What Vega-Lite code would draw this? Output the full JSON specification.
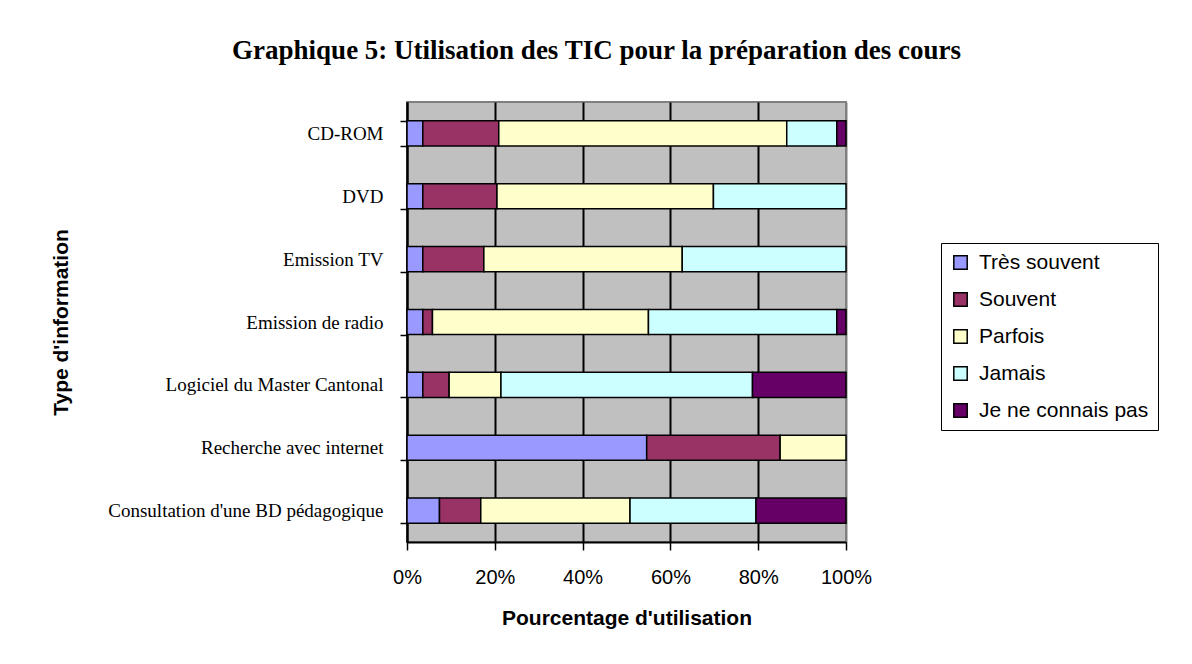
{
  "$schema": "https://vega.github.io/schema/vega-lite/v6.json",
  "autosize": "none",
  "padding": {"left": 407, "top": 102, "right": 346, "bottom": 122},
  "width": 439,
  "height": 440,
  "background": "white",
  "title": {
    "text": "Graphique 5: Utilisation des TIC pour la préparation des cours",
    "font": "Liberation Serif",
    "fontSize": 27,
    "fontWeight": "bold",
    "color": "black",
    "anchor": "middle",
    "baseline": "alphabetic",
    "offset": 7,
    "dx": -30
  },
  "data": {
    "values": [
      {"type": "CD-ROM", "freq": "Très souvent", "rang": 1, "pct": 3.6},
      {"type": "CD-ROM", "freq": "Souvent", "rang": 2, "pct": 17.3},
      {"type": "CD-ROM", "freq": "Parfois", "rang": 3, "pct": 65.6},
      {"type": "CD-ROM", "freq": "Jamais", "rang": 4, "pct": 11.4},
      {"type": "CD-ROM", "freq": "Je ne connais pas", "rang": 5, "pct": 2.1},
      {"type": "DVD", "freq": "Très souvent", "rang": 1, "pct": 3.6},
      {"type": "DVD", "freq": "Souvent", "rang": 2, "pct": 16.9},
      {"type": "DVD", "freq": "Parfois", "rang": 3, "pct": 49.3},
      {"type": "DVD", "freq": "Jamais", "rang": 4, "pct": 30.2},
      {"type": "Emission TV", "freq": "Très souvent", "rang": 1, "pct": 3.6},
      {"type": "Emission TV", "freq": "Souvent", "rang": 2, "pct": 13.9},
      {"type": "Emission TV", "freq": "Parfois", "rang": 3, "pct": 45.2},
      {"type": "Emission TV", "freq": "Jamais", "rang": 4, "pct": 37.3},
      {"type": "Emission de radio", "freq": "Très souvent", "rang": 1, "pct": 3.6},
      {"type": "Emission de radio", "freq": "Souvent", "rang": 2, "pct": 2.2},
      {"type": "Emission de radio", "freq": "Parfois", "rang": 3, "pct": 49.2},
      {"type": "Emission de radio", "freq": "Jamais", "rang": 4, "pct": 42.9},
      {"type": "Emission de radio", "freq": "Je ne connais pas", "rang": 5, "pct": 2.1},
      {"type": "Logiciel du Master Cantonal", "freq": "Très souvent", "rang": 1, "pct": 3.6},
      {"type": "Logiciel du Master Cantonal", "freq": "Souvent", "rang": 2, "pct": 6.0},
      {"type": "Logiciel du Master Cantonal", "freq": "Parfois", "rang": 3, "pct": 11.8},
      {"type": "Logiciel du Master Cantonal", "freq": "Jamais", "rang": 4, "pct": 57.3},
      {"type": "Logiciel du Master Cantonal", "freq": "Je ne connais pas", "rang": 5, "pct": 21.3},
      {"type": "Recherche avec internet", "freq": "Très souvent", "rang": 1, "pct": 54.6},
      {"type": "Recherche avec internet", "freq": "Souvent", "rang": 2, "pct": 30.4},
      {"type": "Recherche avec internet", "freq": "Parfois", "rang": 3, "pct": 15.0},
      {"type": "Consultation d'une BD pédagogique", "freq": "Très souvent", "rang": 1, "pct": 7.4},
      {"type": "Consultation d'une BD pédagogique", "freq": "Souvent", "rang": 2, "pct": 9.4},
      {"type": "Consultation d'une BD pédagogique", "freq": "Parfois", "rang": 3, "pct": 34.0},
      {"type": "Consultation d'une BD pédagogique", "freq": "Jamais", "rang": 4, "pct": 28.7},
      {"type": "Consultation d'une BD pédagogique", "freq": "Je ne connais pas", "rang": 5, "pct": 20.5}
    ]
  },
  "mark": {"type": "bar", "stroke": "black", "strokeWidth": 1.5},
  "encoding": {
    "y": {
      "field": "type",
      "type": "nominal",
      "sort": ["CD-ROM", "DVD", "Emission TV", "Emission de radio", "Logiciel du Master Cantonal", "Recherche avec internet", "Consultation d'une BD pédagogique"],
      "scale": {"paddingInner": 0.6, "paddingOuter": 0.3},
      "axis": {
        "title": "Type d'information",
        "titleFont": "Liberation Sans",
        "titleFontSize": 21,
        "titleFontWeight": "bold",
        "titleColor": "black",
        "titleX": -346,
        "titleY": 220,
        "titleBaseline": "middle",
        "titleAlign": "center",
        "titleAngle": 270,
        "labelFont": "Liberation Serif",
        "labelFontSize": 19,
        "labelColor": "black",
        "labelPadding": 17,
        "labelLimit": 400,
        "tickBand": "extent",
        "tickSize": 7,
        "tickColor": "black",
        "tickWidth": 1.5,
        "domainColor": "black",
        "domainWidth": 2,
        "grid": false
      }
    },
    "x": {
      "field": "pct",
      "type": "quantitative",
      "stack": "normalize",
      "scale": {"domain": [0, 1], "nice": false},
      "axis": {
        "title": "Pourcentage d'utilisation",
        "titleFont": "Liberation Sans",
        "titleFontSize": 21,
        "titleFontWeight": "bold",
        "titleColor": "black",
        "titleY": 65,
        "titleBaseline": "top",
        "values": [0, 0.2, 0.4, 0.6, 0.8, 1],
        "format": ".0%",
        "labelFont": "Liberation Sans",
        "labelFontSize": 20,
        "labelColor": "black",
        "labelPadding": 17,
        "labelFlush": false,
        "tickSize": 8,
        "tickColor": "black",
        "tickWidth": 1.5,
        "domainColor": "black",
        "domainWidth": 2,
        "grid": true,
        "gridColor": {"condition": {"test": "datum.value >= 1", "value": "#808080"}, "value": "black"},
        "gridWidth": 2,
        "gridOpacity": 1
      }
    },
    "color": {
      "field": "freq",
      "type": "nominal",
      "scale": {
        "domain": ["Très souvent", "Souvent", "Parfois", "Jamais", "Je ne connais pas"],
        "range": ["#9999FF", "#993366", "#FFFFCC", "#CCFFFF", "#660066"]
      },
      "legend": {
        "title": null,
        "orient": "none",
        "legendX": 534,
        "legendY": 141,
        "strokeColor": "black",
        "padding": 9,
        "symbolType": "square",
        "symbolSize": 180,
        "symbolStrokeColor": "black",
        "symbolStrokeWidth": 1.5,
        "symbolOpacity": 1,
        "labelFont": "Liberation Sans",
        "labelFontSize": 21,
        "labelColor": "black",
        "labelOffset": 8,
        "labelLimit": 300,
        "rowPadding": 15
      }
    },
    "order": {"field": "rang", "type": "quantitative"}
  },
  "config": {
    "view": {"fill": "#C0C0C0", "stroke": "#808080", "strokeWidth": 2}
  }
}
